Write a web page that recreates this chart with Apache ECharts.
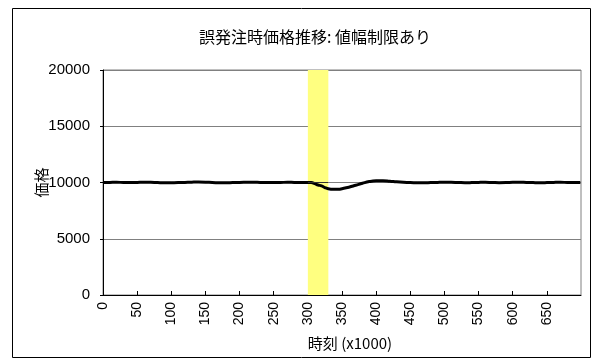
<!DOCTYPE html>
<html>
<head>
<meta charset="utf-8">
<script src="https://cdn.jsdelivr.net/npm/echarts@6/dist/echarts.min.js"></script>
<style>
  html, body { margin: 0; padding: 0; background: #fff; }
  #main { width: 596px; height: 364px; }
</style>
</head>
<body>
<div id="main"></div>
<script>
// 時刻 (x1000) と価格
const times = [
  0, 10, 20, 30, 40, 50, 60, 70, 80, 90,
  100, 110, 120, 130, 140, 150, 160, 170, 180, 190,
  200, 210, 220, 230, 240, 250, 260, 270, 280, 290,
  300, 305, 310, 315, 320, 325, 330, 335, 340, 345,
  350, 360, 370, 380, 390, 400, 410, 420, 430, 440,
  450, 460, 470, 480, 490, 500, 510, 520, 530, 540,
  550, 560, 570, 580, 590, 600, 610, 620, 630, 640,
  650, 660, 670, 680, 690, 699
];
const prices = [
  10000, 10010, 10020, 10000, 9990, 10010, 10030, 10020, 9990, 9970,
  9980, 9990, 10010, 10030, 10040, 10030, 10000, 9980, 9970, 9990,
  10010, 10020, 10030, 10010, 9990, 9990, 10000, 10020, 10010, 10000,
  10000, 9990, 9900, 9780, 9700, 9550, 9440, 9400, 9390, 9400,
  9450, 9580, 9750, 9930, 10080, 10150, 10160, 10120, 10070, 10030,
  10000, 9980, 9970, 9990, 10010, 10020, 10020, 10000, 9980, 9990,
  10010, 10020, 10000, 9980, 9990, 10020, 10030, 10010, 9990, 9980,
  9990, 10010, 10020, 10000, 9990, 10000
];
// 値幅制限の発動区間
const bandStart = 300;
const bandEnd = 330;
const basePrice = 10000;

const yTicks = { min: 0, max: 20000, interval: 5000 };
const xTicks = { min: 0, max: 700, interval: 50 };

const font = 'Liberation Sans, Arial, "Noto Sans CJK JP", sans-serif';
const cjk = '"Noto Sans CJK JP", sans-serif';

const chart = echarts.init(document.getElementById('main'));

chart.setOption({
  animation: false,
  backgroundColor: '#fff',
  title: {
    text: '誤発注時価格推移: 値幅制限あり',
    left: 194,
    top: 24,
    textStyle: { fontFamily: cjk, fontSize: 16, fontWeight: 'normal', color: '#000' }
  },
  graphic: [{
    type: 'rect',
    shape: { x: 12.5, y: 8.5, width: 578, height: 349 },
    style: { fill: 'none', stroke: '#000', lineWidth: 1 },
    silent: true
  }],
  grid: {
    left: 103, right: 15, top: 70, bottom: 69,
    show: true, borderColor: '#808080', borderWidth: 1
  },
  xAxis: {
    type: 'value',
    min: xTicks.min, max: xTicks.max, interval: xTicks.interval,
    name: '時刻 (x1000)',
    nameLocation: 'middle',
    nameGap: 41,
    nameMoveOverlap: false,
    nameTextStyle: { fontFamily: cjk, fontSize: 15, color: '#000', padding: [0, 0, 0, 16] },
    axisLine: { show: true, lineStyle: { color: '#000', width: 1 } },
    axisTick: { show: true, inside: true, length: 4, lineStyle: { color: '#000' } },
    axisLabel: {
      rotate: 90, fontSize: 14, color: '#000', fontFamily: font, margin: 7,
      showMaxLabel: false
    },
    splitLine: { show: false }
  },
  yAxis: {
    type: 'value',
    min: yTicks.min, max: yTicks.max, interval: yTicks.interval,
    name: '価格',
    nameLocation: 'middle',
    nameRotate: 90,
    nameGap: 54,
    nameMoveOverlap: false,
    nameTextStyle: { fontFamily: cjk, fontSize: 15, color: '#000' },
    axisLine: { show: true, lineStyle: { color: '#000', width: 1 } },
    axisTick: { show: true, length: 3, lineStyle: { color: '#000' } },
    axisLabel: {
      fontSize: 15, color: '#000', fontFamily: font, margin: 13,
      formatter: (v) => String(v)
    },
    splitLine: { show: true, lineStyle: { color: '#808080', width: 1 } }
  },
  series: [{
    type: 'line',
    data: times.map((t, i) => [t, prices[i]]),
    smooth: true,
    showSymbol: false,
    lineStyle: { color: '#000', width: 3 },
    markArea: {
      silent: true,
      itemStyle: { color: '#ffff80' },
      data: [[{ xAxis: bandStart }, { xAxis: bandEnd }]]
    },
    markLine: {
      silent: true,
      symbol: 'none',
      label: { show: false },
      lineStyle: { color: '#333', width: 1, type: 'solid' },
      data: [[{ coord: [bandStart, basePrice] }, { coord: [bandEnd, basePrice] }]]
    }
  }]
});
</script>
</body>
</html>
